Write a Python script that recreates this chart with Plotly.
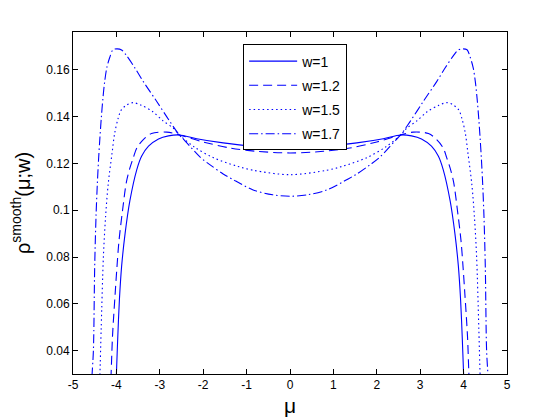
"""Smoothed density rho^smooth(mu; w) for four widths (Plotly)."""

import plotly.graph_objects as go

# values
mu_w1 = [-4.02, -4.00, -3.97, -3.93, -3.88, -3.80, -3.69, -3.53, -3.42, -3.26, -3.03,
         -2.80, -2.55, -2.15, -1.54, -0.85, 0.0,
         0.85, 1.54, 2.15, 2.55, 2.80, 3.03, 3.26, 3.42, 3.53, 3.69, 3.80, 3.88,
         3.93, 3.97, 4.00, 4.02]
rho_w1 = [0.022, 0.030, 0.045, 0.062, 0.076, 0.090, 0.104, 0.1174, 0.1231, 0.1274, 0.1305,
          0.1318, 0.1322, 0.1306, 0.1288, 0.1274, 0.1267,
          0.1274, 0.1288, 0.1306, 0.1322, 0.1318, 0.1305, 0.1274, 0.1231, 0.1174, 0.104,
          0.090, 0.076, 0.062, 0.045, 0.030, 0.022]

mu_w12 = [-4.14, -4.12, -4.09, -4.03, -3.99, -3.94, -3.86, -3.77, -3.69, -3.61, -3.53,
          -3.38, -3.19, -2.84, -2.55, -2.00, -1.38, -0.77, 0.0,
          0.77, 1.38, 2.00, 2.55, 2.84, 3.19, 3.38, 3.53, 3.61, 3.69, 3.77, 3.86,
          3.94, 3.99, 4.03, 4.09, 4.12, 4.14]
rho_w12 = [0.022, 0.031, 0.046, 0.064, 0.075, 0.087, 0.0997, 0.112, 0.118, 0.1225, 0.1266,
           0.1302, 0.1328, 0.1334, 0.1322, 0.1292, 0.1266, 0.1252, 0.1245,
           0.1252, 0.1266, 0.1292, 0.1322, 0.1334, 0.1328, 0.1302, 0.1266, 0.1225, 0.118,
           0.112, 0.0997, 0.087, 0.075, 0.064, 0.046, 0.031, 0.022]

mu_w15 = [-4.40, -4.38, -4.35, -4.30, -4.25, -4.19, -4.10, -4.04, -3.96, -3.89, -3.77,
          -3.62, -3.43, -3.16, -2.93, -2.69, -2.55, -2.20, -1.77, -1.23, -0.85, 0.0,
          0.85, 1.23, 1.77, 2.20, 2.55, 2.69, 2.93, 3.16, 3.43, 3.62, 3.77, 3.89,
          3.96, 4.04, 4.10, 4.19, 4.25, 4.30, 4.35, 4.38, 4.40]
rho_w15 = [0.022, 0.030, 0.050, 0.080, 0.097, 0.111, 0.1244, 0.1329, 0.1393, 0.1428, 0.1449,
           0.146, 0.1449, 0.1421, 0.1383, 0.1351, 0.1322, 0.127, 0.1225, 0.1189, 0.1171, 0.1152,
           0.1171, 0.1189, 0.1225, 0.127, 0.1322, 0.1351, 0.1383, 0.1421, 0.1449, 0.146, 0.1449,
           0.1428, 0.1393, 0.1329, 0.1244, 0.111, 0.097, 0.080, 0.050, 0.030, 0.022]

mu_w17 = [-4.58, -4.56, -4.53, -4.50, -4.47, -4.44, -4.41, -4.38, -4.35, -4.31, -4.27,
          -4.22, -4.15, -4.08, -3.98, -3.88, -3.77, -3.58, -3.38, -3.07, -2.77, -2.55,
          -2.42, -2.07, -1.84, -1.54, -1.34, -0.85, -0.40, 0.0,
          0.40, 0.85, 1.34, 1.54, 1.84, 2.07, 2.42, 2.55, 2.77, 3.07, 3.38, 3.58,
          3.77, 3.88, 3.98, 4.08, 4.15, 4.22, 4.27, 4.31, 4.35, 4.38, 4.41, 4.44,
          4.47, 4.50, 4.53, 4.56, 4.58]
rho_w17 = [0.022, 0.030, 0.040, 0.076, 0.097, 0.111, 0.122, 0.131, 0.139, 0.148, 0.155,
           0.161, 0.1655, 0.1686, 0.1690, 0.1685, 0.1662, 0.161, 0.155, 0.1465, 0.138, 0.1322,
           0.1297, 0.1227, 0.1194, 0.1155, 0.1134, 0.1087, 0.1066, 0.106,
           0.1066, 0.1087, 0.1134, 0.1155, 0.1194, 0.1227, 0.1297, 0.1322, 0.138, 0.1465,
           0.155, 0.161, 0.1662, 0.1685, 0.1690, 0.1686, 0.1655, 0.161, 0.155, 0.148,
           0.139, 0.131, 0.122, 0.111, 0.097, 0.076, 0.040, 0.030, 0.022]

series_names = ["w=1", "w=1.2", "w=1.5", "w=1.7"]
x_ticks = [-5, -4, -3, -2, -1, 0, 1, 2, 3, 4, 5]
x_tick_labels = ["-5", "-4", "-3", "-2", "-1", "0", "1", "2", "3", "4", "5"]
y_ticks = [0.04, 0.06, 0.08, 0.1, 0.12, 0.14, 0.16]
y_tick_labels = ["0.04", "0.06", "0.08", "0.1", "0.12", "0.14", "0.16"]

FONT = "Liberation Sans, Arial, sans-serif"
BLUE = "#0000ff"
dashes = ["solid", "9px,5px", "1.5px,3px", "9px,3px,1.5px,3px"]

fig = go.Figure()
for name, xs, ys, dash in zip(
    series_names,
    [mu_w1, mu_w12, mu_w15, mu_w17],
    [rho_w1, rho_w12, rho_w15, rho_w17],
    dashes,
):
    fig.add_trace(go.Scatter(
        x=xs, y=ys, name=name, mode="lines", legendgroup=name,
        line=dict(color=BLUE, width=1.1, dash=dash, shape="spline", smoothing=0.9),
    ))

axis_common = dict(
    showline=True, linecolor="black", linewidth=1, mirror="ticks",
    ticks="inside", ticklen=5, tickcolor="black", tickwidth=1,
    showgrid=False, zeroline=False, automargin=False,
    tickfont=dict(family=FONT, size=12, color="black"),
)

# the page body adds an 8px offset, so the figure is a bit smaller than the window
fig.update_layout(
    width=552, height=412,
    margin=dict(l=65, r=53, t=24, b=46),
    paper_bgcolor="white", plot_bgcolor="white",
    font=dict(family=FONT, color="black"),
    xaxis=dict(
        range=[-5, 5], tickvals=x_ticks, ticktext=x_tick_labels,
        title=dict(text="μ", font=dict(size=21), standoff=6),
        **axis_common,
    ),
    yaxis=dict(
        range=[0.03, 0.1762], tickvals=y_ticks, ticktext=y_tick_labels,
        title=dict(text="ρ<sup>smooth</sup>(μ;w)", font=dict(size=20), standoff=10),
        **axis_common,
    ),
    legend=dict(
        x=0.392, y=0.9635, xanchor="left", yanchor="top",
        bgcolor="white", bordercolor="black", borderwidth=1,
        font=dict(family=FONT, size=14, color="black"),
        itemwidth=48, tracegroupgap=3,
    ),
    showlegend=True,
)

fig.write_html("out.html")
